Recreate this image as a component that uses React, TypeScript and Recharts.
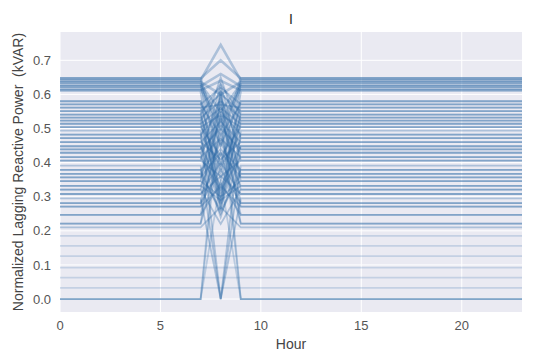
import React from 'react';
import { LineChart, Line, XAxis, YAxis, CartesianGrid } from 'recharts';

// hours on the x axis
const hours = [0, 1, 2, 3, 4, 5, 6, 7, 8, 9, 10, 11, 12, 13, 14, 15, 16, 17, 18, 19, 20, 21, 22, 23];
const changeHour = 8;

// value held all day by each curve
const dayLevels = [
  0.647, 0.642, 0.636, 0.630, 0.624, 0.618, 0.612,
  0.580, 0.571, 0.561, 0.551, 0.541, 0.532, 0.523, 0.514, 0.504, 0.494,
  0.482, 0.472, 0.460, 0.448, 0.439, 0.429, 0.416, 0.406, 0.391, 0.379,
  0.367, 0.357, 0.346, 0.332, 0.321, 0.308, 0.295, 0.281, 0.271, 0.247,
  0.221, 0.210, 0.185, 0.156, 0.126, 0.092, 0.063, 0.033,
  0, 0, 0,
  0.580, 0.571, 0.561, 0.551, 0.541, 0.532, 0.523, 0.514, 0.504, 0.482,
  0.472, 0.460, 0.448, 0.439, 0.429, 0.416, 0.406, 0.379, 0.367, 0.357,
  0.346, 0.332, 0.321, 0.308, 0.281, 0.271, 0.247, 0.221,
  0.647, 0.636, 0.624, 0.612,
];

// value of the same curve at hour 8
const hour8Values = [
  0.70, 0.745, 0.60, 0.55, 0.66, 0.50, 0.64,
  0.45, 0.62, 0.40, 0.60, 0.35, 0.58, 0.30, 0.56, 0.42, 0,
  0.55, 0.28, 0.52, 0.33, 0.50, 0.24, 0.47, 0.36, 0, 0.44,
  0.26, 0.53, 0.30, 0.46, 0.22, 0.40, 0, 0.38, 0.48, 0.34,
  0.43, 0.27, 0.185, 0.156, 0.126, 0.092, 0.063, 0.033,
  0.62, 0.35, 0.55,
  0.31, 0.48, 0.57, 0.26, 0.63, 0.37, 0.61, 0.29, 0.54, 0.39,
  0.65, 0.41, 0.27, 0.59, 0.51, 0.32, 0.63, 0.25, 0.57, 0.43,
  0.61, 0.29, 0.54, 0.36, 0.60, 0.33, 0.50, 0.58,
  0.45, 0.38, 0.52, 0.28,
];

const yTicks = [0, 0.1, 0.2, 0.3, 0.4, 0.5, 0.6, 0.7];
const xTicks = [0, 5, 10, 15, 20];

const rows = hours.map((h) => {
  const row: Record<string, number> = { hour: h };
  dayLevels.forEach((v, i) => {
    row[`c${i}`] = h === changeHour ? hour8Values[i] : v;
  });
  return row;
});

const font = '"Liberation Sans", Arial, sans-serif';

export default function App() {
  return (
    <div style={{ position: 'absolute', left: 0, top: 0, width: 533, height: 352, background: '#fff', fontFamily: font }}>
      <div style={{ position: 'absolute', left: 60, width: 462, top: 11, textAlign: 'center', fontSize: 14, color: '#262626' }}>I</div>
      <div
        style={{
          position: 'absolute',
          left: 18,
          top: 172,
          transform: 'translate(-50%, -50%) rotate(-90deg)',
          whiteSpace: 'pre',
          fontSize: 14,
          color: '#444',
        }}
      >
        Normalized Lagging Reactive Power  (kVAR)
      </div>
      <LineChart width={533} height={352} data={rows} margin={{ top: 32, right: 11, bottom: 0, left: 0 }}>
        <CartesianGrid fill="#EAEAF2" stroke="#ffffff" strokeWidth={1} horizontalValues={yTicks} verticalValues={xTicks} />
        <XAxis
          dataKey="hour"
          type="number"
          domain={[0, 23]}
          ticks={xTicks}
          axisLine={false}
          tickLine={false}
          tickSize={0}
          tickMargin={9}
          height={40}
          tick={{ fill: '#555', fontSize: 13, fontFamily: font }}
          label={{ value: 'Hour', position: 'insideBottom', offset: 3, fill: '#444', fontSize: 14, fontFamily: font }}
        />
        <YAxis
          type="number"
          domain={[-0.038, 0.783]}
          ticks={yTicks}
          allowDataOverflow
          axisLine={false}
          tickLine={false}
          tickSize={0}
          tickMargin={9}
          width={60}
          tick={{ fill: '#555', fontSize: 13, fontFamily: font }}
          tickFormatter={(v: number) => v.toFixed(1)}
        />
        {dayLevels.map((v, i) => (
          <Line
            key={i}
            type="linear"
            dataKey={`c${i}`}
            stroke="#2d6aa8"
            strokeOpacity={v > 0 && v < 0.2 ? 0.2 : v === 0 ? 0.25 : 0.33}
            strokeWidth={v > 0.6 ? 2.6 : 1.8}
            dot={false}
            activeDot={false}
            isAnimationActive={false}
          />
        ))}
      </LineChart>
    </div>
  );
}
